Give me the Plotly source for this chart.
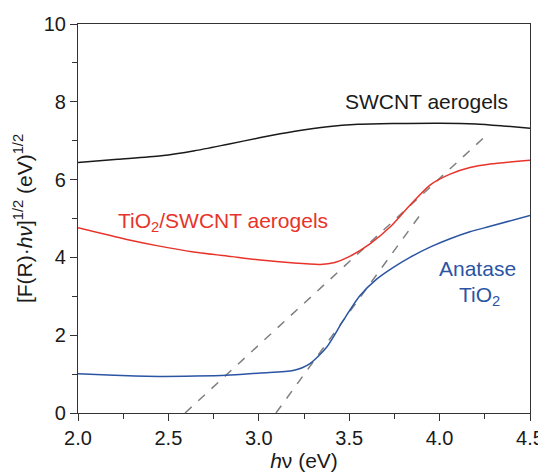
import plotly.graph_objects as go

# Data
swcnt_x = [2.0, 2.22, 2.46, 2.645, 2.83, 3.01, 3.2, 3.38, 3.55, 3.75, 4.0, 4.2, 4.35, 4.5]
swcnt_y = [6.44, 6.52, 6.61, 6.74, 6.91, 7.08, 7.24, 7.36, 7.42, 7.44, 7.45, 7.43, 7.38, 7.32]

comp_x = [2.0, 2.27, 2.45, 2.64, 2.85, 3.01, 3.18, 3.34, 3.42, 3.5, 3.615, 3.726, 3.836, 3.947, 4.058, 4.168, 4.28, 4.5]
comp_y = [4.76, 4.46, 4.29, 4.14, 4.02, 3.93, 3.86, 3.82, 3.87, 4.02, 4.35, 4.78, 5.34, 5.86, 6.14, 6.31, 6.40, 6.50]

tio2_x = [2.0, 2.2, 2.45, 2.65, 2.82, 3.01, 3.19, 3.283, 3.375, 3.467, 3.56, 3.652, 3.74, 3.836, 3.95, 4.058, 4.168, 4.28, 4.5]
tio2_y = [1.01, 0.97, 0.94, 0.95, 0.97, 1.03, 1.09, 1.27, 1.69, 2.38, 3.02, 3.44, 3.73, 4.0, 4.27, 4.48, 4.66, 4.80, 5.08]

tangent1_x = [2.592, 4.245]
tangent1_y = [0.0, 7.08]
tangent2_x = [3.095, 3.90]
tangent2_y = [0.0, 5.14]

FONT = "Liberation Sans, Arial, sans-serif"
BLACK = "#1a1a1a"
RED = "#e8332a"
BLUE = "#2b54a3"
GRAY = "#7f7f7f"

fig = go.Figure()
fig.add_trace(go.Scatter(x=tangent1_x, y=tangent1_y, mode="lines",
                         line=dict(color=GRAY, width=1.5, dash="dash")))
fig.add_trace(go.Scatter(x=tangent2_x, y=tangent2_y, mode="lines",
                         line=dict(color=GRAY, width=1.5, dash="dash")))
fig.add_trace(go.Scatter(x=swcnt_x, y=swcnt_y, mode="lines",
                         line=dict(color=BLACK, width=1.5, shape="spline", smoothing=0.7)))
fig.add_trace(go.Scatter(x=comp_x, y=comp_y, mode="lines",
                         line=dict(color=RED, width=1.5, shape="spline", smoothing=0.7)))
fig.add_trace(go.Scatter(x=tio2_x, y=tio2_y, mode="lines",
                         line=dict(color=BLUE, width=1.5, shape="spline", smoothing=0.7)))

fig.add_annotation(x=3.93, y=8.02, text="SWCNT aerogels", showarrow=False,
                   font=dict(family=FONT, size=21, color=BLACK))
fig.add_annotation(x=2.80, y=4.9, text="TiO<sub>2</sub>/SWCNT aerogels", showarrow=False,
                   font=dict(family=FONT, size=21, color=RED))
fig.add_annotation(x=4.21, y=3.72, text="Anatase", showarrow=False,
                   font=dict(family=FONT, size=21, color=BLUE))
fig.add_annotation(x=4.22, y=3.02, text="TiO<sub>2</sub>", showarrow=False,
                   font=dict(family=FONT, size=21, color=BLUE))

axis_common = dict(showline=True, linecolor="#333333", linewidth=1.2, mirror=True,
                   ticks="outside", ticklen=7, tickwidth=1.2, tickcolor="#333333",
                   showgrid=False, zeroline=False, automargin=False,
                   ticklabeloverflow="allow",
                   tickfont=dict(family=FONT, size=20, color=BLACK))

fig.update_xaxes(range=[2.0, 4.5], dtick=0.5, tick0=2.0, tickformat=".1f",
                 minor=dict(ticks="outside", ticklen=5, dtick=0.25, tickcolor="#333333", tickwidth=1.2),
                 title=dict(text="<i>h</i>ν (eV)", font=dict(family=FONT, size=21, color=BLACK), standoff=4),
                 **axis_common)
fig.update_yaxes(range=[0, 10], dtick=2, tick0=0,
                 minor=dict(ticks="outside", ticklen=5, dtick=1, tickcolor="#333333", tickwidth=1.2),
                 title=dict(text="[F(R)·<i>h</i><i>ν</i>]<sup>1/2</sup> (eV)<sup>1/2</sup>",
                            font=dict(family=FONT, size=21, color=BLACK), standoff=5),
                 **axis_common)

fig.update_layout(width=538, height=475, showlegend=False,
                  margin=dict(l=78, r=8, t=24, b=62),
                  plot_bgcolor="white", paper_bgcolor="white")

# remove the page's default body margin so the figure fills the window exactly
fig.write_html("out.html",
               config={"displayModeBar": False},
               post_script="document.body.style.margin='0';document.body.style.overflow='hidden';")
